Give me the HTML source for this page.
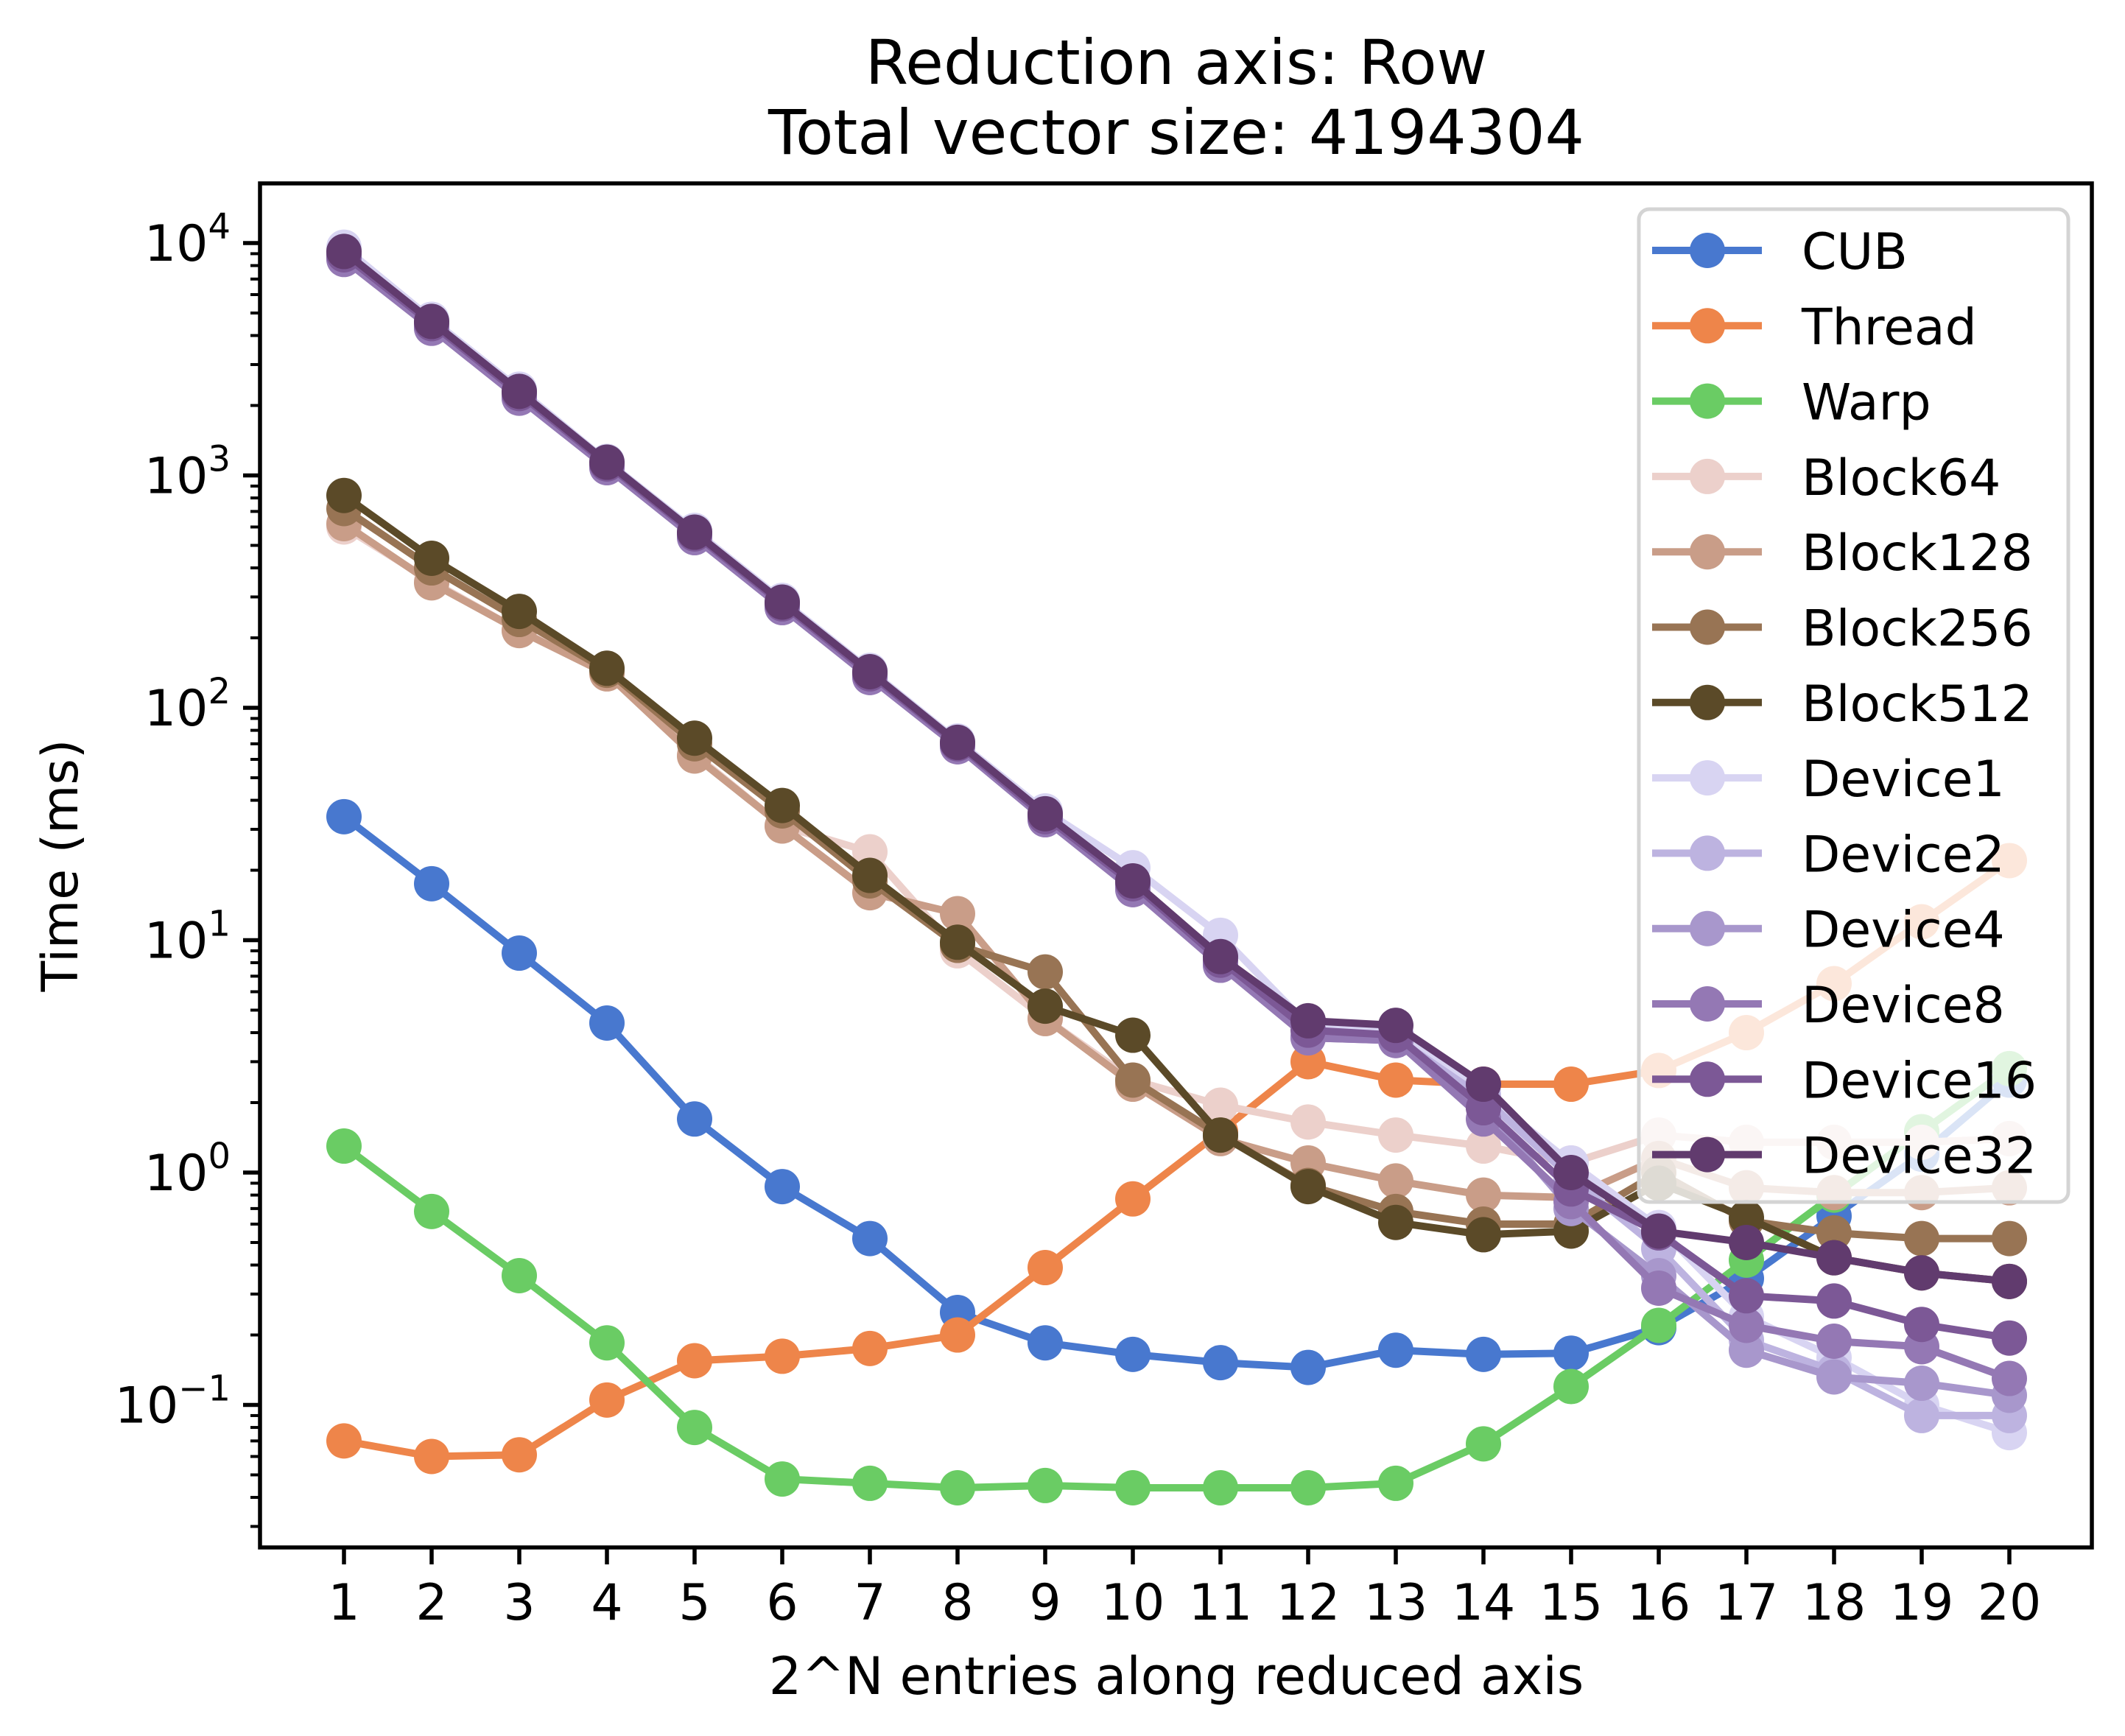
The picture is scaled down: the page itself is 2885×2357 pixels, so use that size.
<!DOCTYPE html>
<html><head><meta charset="utf-8">
<style>
html,body{margin:0;padding:0;background:#fff;}
svg{display:block;font-family:"DejaVu Sans","Liberation Sans",sans-serif;}
</style></head>
<body>
<svg id="chart" width="2885" height="2357" viewBox="0 0 2885 2357" xmlns="http://www.w3.org/2000/svg">
<rect width="2885" height="2357" fill="#fff"/>
<text x="1597" y="114" font-size="84" text-anchor="middle">Reduction axis: Row</text>
<text x="1597" y="209" font-size="84" text-anchor="middle">Total vector size: 4194304</text>
<text x="1597" y="2300" font-size="70" text-anchor="middle">2^N entries along reduced axis</text>
<text x="0" y="0" font-size="68" text-anchor="middle" transform="translate(105,1175) rotate(-90)">Time (ms)</text>
<g id="plot"></g>
<g id="axes"></g>
<g id="legend"></g>
</svg>
<script>
const categories = [1,2,3,4,5,6,7,8,9,10,11,12,13,14,15,16,17,18,19,20];
const seriesNames = ["CUB","Thread","Warp","Block64","Block128","Block256","Block512","Device1","Device2","Device4","Device8","Device16","Device32"];
const seriesColors = ["#4878cf","#ee854a","#6acc64","#ecd0cb","#c99d88","#987454","#5b4a28","#d8d4f2","#bdb3e0","#a897cc","#9478b4","#7c5896","#613b6e"];
const cubValues = [34,17.5,8.8,4.4,1.7,0.87,0.52,0.25,0.185,0.165,0.152,0.145,0.172,0.165,0.167,0.215,0.35,0.65,1.2,2.5];
const threadValues = [0.07,0.06,0.061,0.105,0.155,0.162,0.175,0.2,0.39,0.77,1.5,3.0,2.5,2.4,2.4,2.75,4.0,6.5,12,22];
const warpValues = [1.3,0.68,0.36,0.185,0.08,0.048,0.046,0.044,0.045,0.044,0.044,0.044,0.046,0.068,0.12,0.22,0.42,0.8,1.5,2.8];
const block64Values = [600,350,215,145,63,31,24,9,4.6,2.5,1.95,1.65,1.45,1.3,1.1,1.45,1.35,1.35,1.35,1.4];
const block128Values = [620,345,215,140,62,31,16,13,4.6,2.4,1.4,1.1,0.92,0.8,0.78,1.15,0.86,0.82,0.82,0.86];
const block256Values = [720,400,240,145,70,36,18,9.5,7.3,2.5,1.45,0.88,0.68,0.6,0.6,1.0,0.62,0.55,0.52,0.52];
const block512Values = [820,440,260,148,74,38,19,9.8,5.2,3.9,1.45,0.87,0.61,0.54,0.56,0.9,0.64,0.43,0.37,0.34];
const device1Values = [9600,4700,2350,1150,580,290,145,72,36,20.5,10.5,4.3,4.0,2.2,1.1,0.58,0.24,0.16,0.1,0.076];
const device2Values = [8800,4400,2200,1100,550,275,138,69,34,17,8,3.9,3.8,2.1,0.95,0.47,0.19,0.14,0.09,0.09];
const device4Values = [8600,4300,2150,1080,540,270,135,68,33,16.5,7.8,3.8,3.7,1.9,0.7,0.36,0.172,0.132,0.124,0.11];
const device8Values = [8500,4300,2150,1080,540,270,135,68,33,16.5,7.8,3.8,3.7,1.7,0.75,0.318,0.22,0.188,0.178,0.13];
const device16Values = [8900,4500,2250,1120,560,280,140,70,34,17.5,8.2,4.1,3.9,1.9,0.85,0.55,0.295,0.28,0.222,0.194];
const device32Values = [9200,4600,2300,1140,570,285,143,71,35,18,8.5,4.5,4.3,2.4,1.0,0.56,0.5,0.43,0.37,0.34];
const allSeries = [cubValues,threadValues,warpValues,block64Values,block128Values,block256Values,block512Values,device1Values,device2Values,device4Values,device8Values,device16Values,device32Values];
const yTickExps = [-1,0,1,2,3,4];
const xTickLabels = ["1","2","3","4","5","6","7","8","9","10","11","12","13","14","15","16","17","18","19","20"];

const L=353,R=2840,T=249,B=2101;
function xs(v){return 467+(v-1)*119;}
function ys(v){return 330+(4-Math.log10(v))*315.5;}
const NS="http://www.w3.org/2000/svg";
function mk(tag,attrs,parent){const e=document.createElementNS(NS,tag);for(const k in attrs)e.setAttribute(k,attrs[k]);parent.appendChild(e);return e;}

const plot=document.getElementById('plot');
allSeries.forEach((vals,si)=>{
  const g=mk('g',{},plot);
  
  
  const pts=vals.map((v,i)=>xs(categories[i])+','+ys(v)).join(' ');
  const pl=mk('polyline',{points:pts,fill:'none',stroke:seriesColors[si],'stroke-width':10,'stroke-linejoin':'round'},g);
  
  
  vals.forEach((v,i)=>{
    const c=mk('circle',{cx:xs(categories[i]),cy:ys(v),r:24,fill:seriesColors[si]},g);
    
    
  });
});

const axes=document.getElementById('axes');
const frame=mk('rect',{x:L,y:T,width:R-L,height:B-T,fill:'none',stroke:'#000','stroke-width':5.5},axes);


categories.forEach((c,i)=>{
  const x=xs(c);
  const t=mk('line',{x1:x,y1:B,x2:x,y2:B+23,stroke:'#000','stroke-width':5.5},axes);
  
  
  const tx=mk('text',{x:x,y:B+98,'font-size':68,'text-anchor':'middle'},axes);
  tx.textContent=xTickLabels[i];
  
  
});
for(let e=-2;e<=4;e++){
  for(let m=2;m<=9;m++){
    const v=m*Math.pow(10,e);const y=ys(v);
    if(y<T||y>B)continue;
    const t=mk('line',{x1:L-13,y1:y,x2:L,y2:y,stroke:'#000','stroke-width':4},axes);
    
    
  }
}
yTickExps.forEach(e=>{
  const y=ys(Math.pow(10,e));
  const t=mk('line',{x1:L-23,y1:y,x2:L,y2:y,stroke:'#000','stroke-width':5.5},axes);
  
  
  const tx=mk('text',{x:L-40,y:y+24,'font-size':68,'text-anchor':'end'},axes);
  
  
  const base=mk('tspan',{},tx);base.textContent='10';
  const sup=mk('tspan',{dy:-30,'font-size':48},tx);sup.textContent=(e<0?'\u2212':'')+Math.abs(e);
});

const lg=document.getElementById('legend');
const box=mk('rect',{x:2225,y:284,width:583,height:1348,rx:14,fill:'#fff','fill-opacity':0.8,stroke:'#d4d4d4','stroke-width':5},lg);


seriesNames.forEach((n,i)=>{
  const y=340+i*102.3;
  const g=mk('g',{},lg);
  
  
  mk('line',{x1:2243,y1:y,x2:2392,y2:y,stroke:seriesColors[i],'stroke-width':10},g);
  mk('circle',{cx:2318,cy:y,r:24,fill:seriesColors[i]},g);
  const t=mk('text',{x:2446,y:y+25,'font-size':68},g);
  t.textContent=n;
});
</script>
</body></html>
